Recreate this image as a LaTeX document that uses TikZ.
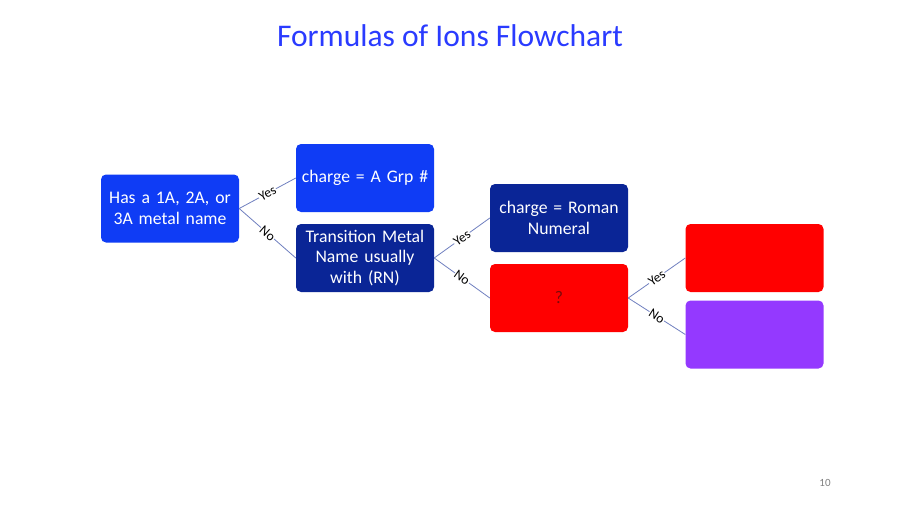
\documentclass[tikz,border=0pt]{standalone}
\usepackage{fontspec}
\setmainfont{Carlito}
\definecolor{titleblue}{HTML}{2A3BFF}
\definecolor{boxblue}{HTML}{0F3CF5}
\definecolor{navy}{HTML}{0A2596}
\definecolor{boxred}{HTML}{FF0000}
\definecolor{boxpurple}{HTML}{9439FF}
\definecolor{linecol}{HTML}{7080C0}
\definecolor{qcol}{HTML}{7A0A0A}
\begin{document}
\begin{tikzpicture}[x=1pt,y=-1pt,
  box/.style={rounded corners=5pt, minimum width=138pt, minimum height=68pt, inner sep=2pt,
    text width=134pt, align=center, text=white, font=\fontsize{17.7}{20.5}\selectfont},
  conn/.style={draw=linecol, line width=0.8pt},
  lab/.style={fill=white, inner sep=0.6pt, sloped, font=\fontsize{13.5}{15}\selectfont, text=black}]
\useasboundingbox (0,0) rectangle (900,506);
\fill[white] (0,0) rectangle (900,506);
\node[font=\fontsize{31.5}{36}\selectfont, text=titleblue] (title) at (450,36) {Formulas of Ions Flowchart};
\node[box, fill=boxblue] (a) at (170,208.5) {Has a 1A, 2A, or\\3A metal name};
\node[box, fill=boxblue] (b) at (365,178) {charge = A Grp \#};
\node[box, fill=navy] (c) at (365,258) {Transition Metal\\Name usually\\with (RN)};
\node[box, fill=navy] (d) at (559,218) {charge = Roman\\Numeral\\[2pt]};
\node[box, fill=boxred, text=qcol] (e) at (559,298) {?};
\node[box, fill=boxred] (f) at (754.5,258) {};
\node[box, fill=boxpurple] (g) at (754.5,334.5) {};
\draw[conn] (a.east) -- node[lab] {Yes} (b.west);
\draw[conn] (a.east) -- node[lab] {No} (c.west);
\draw[conn] (c.east) -- node[lab] {Yes} (d.west);
\draw[conn] (c.east) -- node[lab] {No} (e.west);
\draw[conn] (e.east) -- node[lab] {Yes} (f.west);
\draw[conn] (e.east) -- node[lab] {No} (g.west);
\node[font=\fontsize{11}{13}\selectfont, text=gray] (pg) at (825,483) {10};
\end{tikzpicture}
\end{document}
